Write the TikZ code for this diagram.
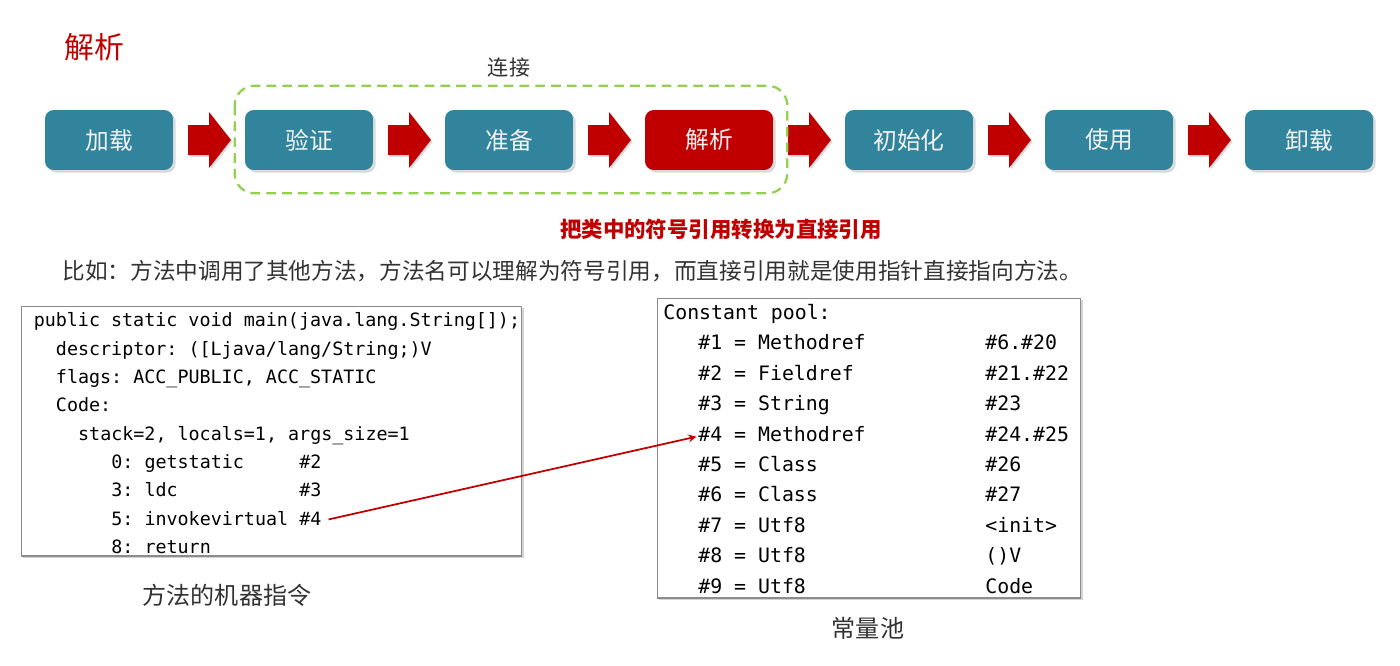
\documentclass[tikz,border=0pt]{standalone}
\usepackage{fontspec}
\setmonofont{DejaVu Sans Mono}
\newfontfamily\cjk{Noto Sans CJK SC}
\usepackage{xcolor}
\definecolor{rojo}{RGB}{192,0,0}
\definecolor{azulPetroleo}{RGB}{49,132,155}
\definecolor{verdeClaro}{RGB}{146,208,80}
\definecolor{grisTexto}{RGB}{50,50,50}
\definecolor{grisBorde}{RGB}{140,140,140}
\usepackage{tikz}
\usetikzlibrary{arrows,shapes,calc,positioning,shadows}
\tikzstyle{fase}   =[rectangle, rounded corners=5pt, fill=azulPetroleo,
                     text=white!95!black, minimum width=2.56cm,
                     minimum height=1.2cm, inner sep=0pt,
                     font=\cjk\fontsize{13.5}{16}\selectfont,
                     drop shadow={shadow xshift=1.5pt, shadow yshift=-1.5pt,
                     opacity=0.3}]
\tikzstyle{bloque} =[fill=rojo, drop shadow={shadow xshift=1pt,
                     shadow yshift=-1pt, opacity=0.25}]
\tikzstyle{grupo}  =[draw=verdeClaro, line width=1.3pt,
                     dash pattern=on 5.5pt off 3.5pt, rounded corners=0.4cm]
\tikzstyle{caja}   =[rectangle, draw=grisBorde, fill=white, line width=0.6pt,
                     inner sep=0pt, drop shadow={shadow xshift=1.2pt,
                     shadow yshift=-1.2pt, opacity=0.35}]
\tikzstyle{linea}  =[anchor=west, inner sep=0pt, text height=0.8em,
                     text depth=0.25em, text=black, yshift=-1.7pt]
\tikzstyle{enlace} =[->, >=stealth, draw=rojo, line width=1pt,
                     shorten <=4pt, shorten >=1pt]

\begin{document}
\begin{tikzpicture}[x=0.02cm, y=-0.02cm]
    \useasboundingbox (0,0) rectangle (1400,666);

    \node[anchor=west, text=rojo, font=\cjk\fontsize{17}{20}\selectfont]
        (titulo) at (58,47) {解析};

    % fases de la carga de clases
    \foreach \i/\t in {1/加载,2/验证,3/准备,5/初始化,6/使用,7/卸载}
        \node[fase] (s\i) at ({109+200*(\i-1)},140) {\t};
    \node[fase, fill=rojo] (s4) at (709,140) {解析};

    \foreach \i in {1,...,6} {
        \pgfmathtruncatemacro\j{\i+1}
        \coordinate (m\i) at ($(s\i.east)!0.5!(s\j.west)$);
        \path[bloque] ($(m\i)+(-21,-15)$) -- ($(m\i)+(0,-15)$)
            -- ($(m\i)+(0,-28)$) -- ($(m\i)+(22,0)$) -- ($(m\i)+(0,28)$)
            -- ($(m\i)+(0,15)$) -- ($(m\i)+(-21,15)$) -- cycle;
    }

    \draw[grupo] ($(s2.north west)+(-10,-24)$) rectangle ($(s4.south east)+(14,23)$);
    \node[text=grisTexto, font=\cjk\fontsize{12}{14}\selectfont]
        (conexion) at (509,68) {连接};

    \node[text=rojo, font=\cjk\bfseries\fontsize{12.2}{14}\selectfont]
        (resumen) at (721,229) {把类中的符号引用转换为直接引用};
    \node[anchor=west, inner sep=0pt, text=grisTexto,
          font=\cjk\fontsize{12.9}{15}\selectfont]
        (ejemplo) at (62,271) {比如：方法中调用了其他方法，方法名可以理解为符号引用，而直接引用就是使用指针直接指向方法。};

    % instrucciones del metodo
    \node[caja, minimum width=10.02cm, minimum height=5cm] (metodo) at (271.5,431) {};
    \begin{scope}[every node/.style={linea, font=\ttfamily\fontsize{10.45}{12}\selectfont}]
        \node (c1) at (33.4,319) {public static void main(java.lang.String[]);};
        \node (c2) at (55.6,348) {descriptor: ([Ljava/lang/String;)V};
        \node (c3) at (55.6,376) {flags: ACC\_PUBLIC, ACC\_STATIC};
        \node (c4) at (55.6,404) {Code:};
        \node (c5) at (77.8,433) {stack=2, locals=1, args\_size=1};
        \node (c6) at (111,461) {0: getstatic~~~~~\#2};
        \node (c7) at (111,489) {3: ldc~~~~~~~~~~~\#3};
        \node (c8) at (111,518) {5: invokevirtual \#4};
        \node (c9) at (111,546) {8: return};
    \end{scope}
    \node[font=\cjk\fontsize{13.7}{16}\selectfont, text=grisTexto]
        (cap1) at (227,595) {方法的机器指令};

    % pool de constantes
    \node[caja, minimum width=8.48cm, minimum height=6cm] (pool) at (869,448) {};
    \begin{scope}[every node/.style={linea, font=\ttfamily\fontsize{11.3}{13}\selectfont}]
        \node (p0) at (663,312) {Constant pool:};
        \foreach \i/\tipo/\valor in {1/Methodref/{\#6.\#20},2/Fieldref/{\#21.\#22},
            3/String/{\#23},4/Methodref/{\#24.\#25},5/Class/{\#26},6/Class/{\#27},
            7/Utf8/{<init>},8/Utf8/{()V},9/Utf8/Code} {
            \node (p\i) at (698,{311.7+30.4*\i}) {\#\i{} = \tipo};
            \node (v\i) at (985,{311.7+30.4*\i}) {\valor};
        }
    \end{scope}
    \node[font=\cjk\fontsize{13.7}{16}\selectfont, text=grisTexto]
        (cap2) at (868,628) {常量池};

    \draw[enlace] (c8.east) -- (p4.west);

\end{tikzpicture}
\end{document}
